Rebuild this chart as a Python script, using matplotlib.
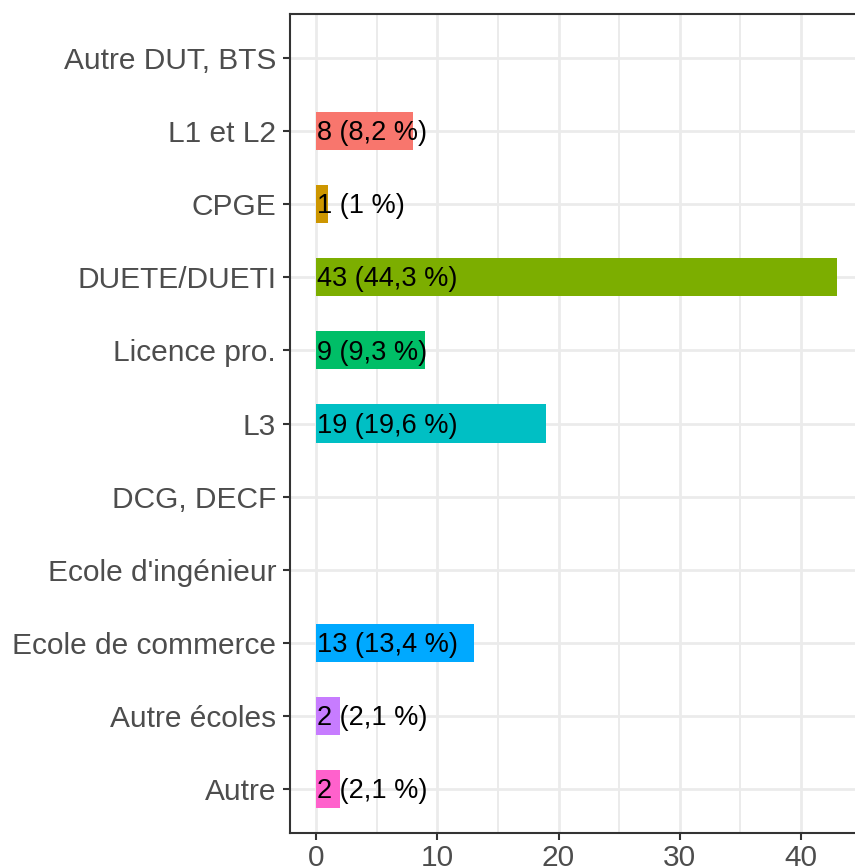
import matplotlib
matplotlib.use("Agg")
import matplotlib.pyplot as plt

categories = ["Autre DUT, BTS", "L1 et L2", "CPGE", "DUETE/DUETI", "Licence pro.",
              "L3", "DCG, DECF", "Ecole d'ingénieur", "Ecole de commerce",
              "Autre écoles", "Autre"]
counts = [0, 8, 1, 43, 9, 19, 0, 0, 13, 2, 2]
labels = ["", "8 (8,2 %)", "1 (1 %)", "43 (44,3 %)", "9 (9,3 %)", "19 (19,6 %)",
          "", "", "13 (13,4 %)", "2 (2,1 %)", "2 (2,1 %)"]
colors = ["none", "#F8766D", "#CD9600", "#7CAE00", "#00BE67", "#00BFC4",
          "none", "none", "#00A9FF", "#C77CFF", "#FF61CC"]

plt.rcParams["font.family"] = ["Liberation Sans", "DejaVu Sans"]

fig = plt.figure(figsize=(8.55, 8.68), dpi=100)
ax = fig.add_axes([290 / 855, 1 - 833 / 868, (863.4 - 290) / 855, (833 - 14) / 868])

n = len(categories)
ypos = list(range(n, 0, -1))  # top category highest

# grid
for x in [5, 15, 25, 35]:
    ax.axvline(x, color="#EBEBEB", lw=1.4, zorder=0)
for x in [0, 10, 20, 30, 40]:
    ax.axvline(x, color="#EBEBEB", lw=2.0, zorder=0)
for y in ypos:
    ax.axhline(y, color="#EBEBEB", lw=2.0, zorder=0)

for y, c, col, lab in zip(ypos, counts, colors, labels):
    if c > 0:
        ax.barh(y, c, height=0.52, color=col, zorder=2)
    if lab:
        ax.text(0.1, y - 0.03, lab, ha="left", va="center", fontsize=19.5,
                color="black", zorder=3)

ax.set_xlim(-2.15, 45.15)
ax.set_ylim(0.4, n + 0.6)
ax.set_yticks(ypos)
ax.set_yticklabels(categories)
ax.set_xticks([0, 10, 20, 30, 40])
ax.tick_params(axis="both", labelsize=21.5, labelcolor="#4D4D4D", color="#333333",
               length=5, width=1.5)
ax.tick_params(axis="y", pad=5)
ax.tick_params(axis="x", pad=3)
for lab in ax.get_yticklabels():
    lab.set_va("center_baseline")
for s in ax.spines.values():
    s.set_color("#333333")
    s.set_linewidth(1.5)

fig.savefig("out.png", dpi=100)
